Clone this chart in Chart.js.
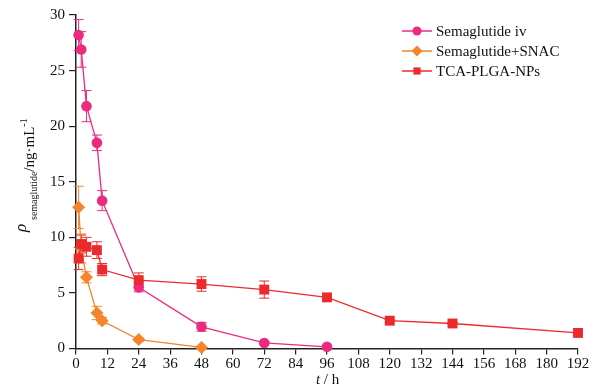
<!DOCTYPE html>
<html>
<head>
<meta charset="utf-8">
<script src="https://cdn.jsdelivr.net/npm/chart.js@4/dist/chart.umd.min.js"></script>
<style>
html,body{margin:0;padding:0;background:#fff;}
#wrap{width:598px;height:392px;position:relative;}
</style>
</head>
<body>
<div id="wrap"><canvas id="c" width="598" height="392"></canvas></div>
<script>
// ---- data ----
const xTicks = [0,12,24,36,48,60,72,84,96,108,120,132,144,156,168,180,192];
const yTicks = [0,5,10,15,20,25,30];

const seriesNames = ["Semaglutide iv", "Semaglutide+SNAC", "TCA-PLGA-NPs"];

const timesIv = [1,2,4,8,10,24,48,72,96];
const ivMean  = [28.2,26.9,21.8,18.5,13.3,5.5,1.95,0.5,0.15];
const ivErr   = [1.4,1.6,1.4,0.7,0.9,0.4,0.4,0.1,0.08];

const timesSnac = [1,2,4,8,10,24,48];
const snacMean  = [12.7,9.0,6.4,3.2,2.5,0.8,0.1];
const snacErr   = [1.9,1.3,0.5,0.6,0.3,0.15,0.05];

const timesNp = [1,2,4,8,10,24,48,72,96,120,144,192];
const npMean  = [8.1,9.4,9.15,8.85,7.1,6.15,5.8,5.3,4.6,2.5,2.25,1.4];
const npErr   = [1.0,0.8,0.85,0.75,0.55,0.65,0.65,0.77,0.12,0.1,0.1,0.08];

const colors = ["#EC2A80", "#F5842A", "#EC2A2E"];
const shapes = ["circle", "rectRot", "rect"];
const radii  = [5.3, 6.5, 7];

function pts(t, m){ return t.map((x,i)=>({x:x, y:m[i]})); }
const errs = [ivErr, snacErr, npErr];

const serif = "'Liberation Serif', 'Times New Roman', serif";

const errorBarPlugin = {
  id: 'errbars',
  beforeDatasetsDraw(chart){
    const ctx = chart.ctx, xs = chart.scales.x, ys = chart.scales.y;
    chart.data.datasets.forEach((ds, di)=>{
      const e = errs[di];
      ctx.save();
      ctx.strokeStyle = colors[di];
      ctx.lineWidth = 1;
      ds.data.forEach((p, i)=>{
        const px = xs.getPixelForValue(p.x);
        const top = ys.getPixelForValue(p.y + e[i]);
        const bot = ys.getPixelForValue(Math.max(0, p.y - e[i]));
        ctx.beginPath();
        ctx.moveTo(px, top); ctx.lineTo(px, bot);
        ctx.moveTo(px-5, top); ctx.lineTo(px+5, top);
        ctx.moveTo(px-5, bot); ctx.lineTo(px+5, bot);
        ctx.stroke();
      });
      ctx.restore();
    });
  }
};

function drawMarker(ctx, shape, x, y, r, color){
  ctx.save();
  ctx.fillStyle = color;
  ctx.beginPath();
  if (shape === 'circle') { ctx.arc(x, y, r, 0, Math.PI*2); }
  else if (shape === 'rectRot') { ctx.moveTo(x, y-r); ctx.lineTo(x+r, y); ctx.lineTo(x, y+r); ctx.lineTo(x-r, y); ctx.closePath(); }
  else { ctx.rect(x-r*0.8, y-r*0.8, r*1.6, r*1.6); }
  ctx.fill();
  ctx.restore();
}

const decorPlugin = {
  id: 'decor',
  afterDraw(chart){
    const ctx = chart.ctx;
    ctx.save();
    // legend
    const lx0 = 402, lx1 = 432, tx = 436;
    const ly = [31, 51, 71];
    seriesNames.forEach((name, i)=>{
      ctx.strokeStyle = colors[i];
      ctx.lineWidth = 1.5;
      ctx.beginPath(); ctx.moveTo(lx0, ly[i]); ctx.lineTo(lx1, ly[i]); ctx.stroke();
      drawMarker(ctx, shapes[i], 417, ly[i], i===1?5.5:4.5, colors[i]);
      ctx.fillStyle = '#111';
      ctx.font = "15px " + serif;
      ctx.textBaseline = 'middle';
      ctx.textAlign = 'left';
      ctx.fillText(name, tx, ly[i] + 1);
    });
    // x title
    ctx.textBaseline = 'alphabetic';
    ctx.textAlign = 'left';
    ctx.font = "italic 15px " + serif;
    ctx.fillStyle = '#111';
    ctx.fillText("t", 316, 384);
    ctx.font = "15px " + serif;
    ctx.fillText(" / h", 320, 384);
    // y title (rotated)
    ctx.save();
    ctx.translate(37, 232);
    ctx.rotate(-Math.PI/2);
    ctx.font = "italic 17px " + serif;
    ctx.fillText("ρ", 0, -11);
    let x = 12;
    ctx.font = "10px " + serif;
    ctx.fillText("semaglutide", x, 0);
    x += ctx.measureText("semaglutide").width;
    ctx.font = "15px " + serif;
    ctx.fillText("/ng·mL", x, -3);
    x += ctx.measureText("/ng·mL").width;
    ctx.font = "10px " + serif;
    ctx.fillText("-1", x, -10);
    ctx.restore();
    ctx.restore();
  }
};

const datasets = [
  {times: timesIv, mean: ivMean},
  {times: timesSnac, mean: snacMean},
  {times: timesNp, mean: npMean}
].map((d, i)=>({
  label: seriesNames[i],
  data: pts(d.times, d.mean),
  borderColor: colors[i],
  backgroundColor: colors[i],
  borderWidth: 1.3,
  pointStyle: shapes[i],
  pointRadius: radii[i],
  pointHoverRadius: radii[i],
  pointBorderWidth: 0,
  tension: 0,
  fill: false,
  clip: false,
  order: 2 - i
}));

new Chart(document.getElementById('c'), {
  type: 'line',
  data: { datasets: datasets },
  options: {
    responsive: false,
    animation: false,
    devicePixelRatio: 1,
    layout: { padding: { left: 0, right: 20, top: 15, bottom: 0 } },
    plugins: { legend: { display: false }, tooltip: { enabled: false } },
    scales: {
      x: {
        type: 'linear',
        min: 0, max: 192,
        afterFit(s){ s.height = 43.5; },
        afterBuildTicks(s){ s.ticks = xTicks.map(v=>({value:v})); },
        grid: { display: true, drawOnChartArea: false, drawTicks: true, tickLength: 6, color: '#222', lineWidth: 1.2 },
        border: { display: true, color: '#222', width: 1.5 },
        ticks: { color: '#111', font: { family: serif, size: 15 }, padding: 1, maxRotation: 0, autoSkip: false }
      },
      y: {
        type: 'linear',
        min: 0, max: 30,
        afterFit(s){ s.width = 76; },
        afterBuildTicks(s){ s.ticks = yTicks.map(v=>({value:v})); },
        grid: { display: true, drawOnChartArea: false, drawTicks: true, tickLength: 7, color: '#222', lineWidth: 1.2 },
        border: { display: true, color: '#222', width: 1.5 },
        ticks: { color: '#111', font: { family: serif, size: 15 }, padding: 4 }
      }
    }
  },
  plugins: [errorBarPlugin, decorPlugin]
});
</script>
</body>
</html>
